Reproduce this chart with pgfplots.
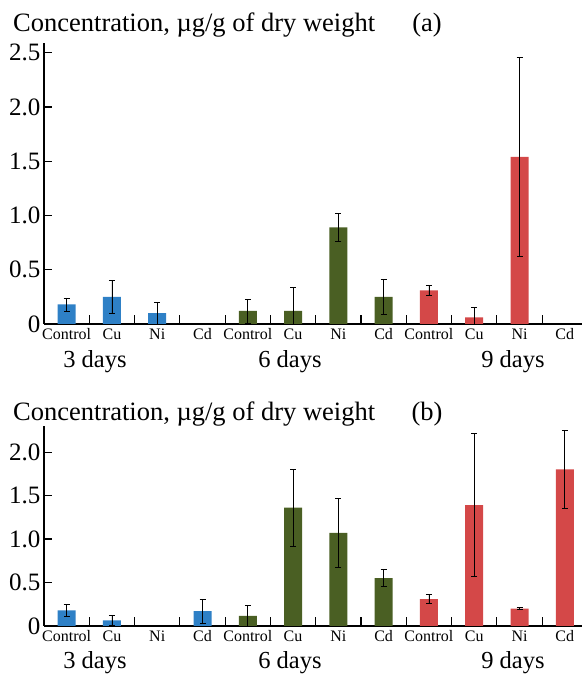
\documentclass[border=0pt]{standalone}
\usepackage{fontspec}
\setmainfont{Liberation Serif}
\usepackage{pgfplots}
\pgfplotsset{compat=1.18}
\definecolor{cblue}{RGB}{46,128,198}
\definecolor{cgreen}{RGB}{74,95,35}
\definecolor{cred}{RGB}{212,72,72}
\pgfplotsset{
 panel/.style={
  scale only axis, width=538pt,
  xmin=-0.5, xmax=11.38, ymin=0,
  axis x line*=bottom, axis y line*=left,
  axis line style={line width=1.1pt, -},
  tick align=inside,
  xtick={0,...,11},
  xticklabels={Control,Cu,Ni,Cd,Control,Cu,Ni,Cd,Control,Cu,Ni,Cd},
  major x tick style={draw=none},
  minor xtick={0.5,1.5,...,10.5},
  minor x tick style={line width=1.1pt, black},
  minor tick length=9pt,
  major tick length=8pt,
  y tick style={line width=1.1pt, black},
  /pgf/number format/assume math mode=true,
  xticklabel style={font=\fontsize{16}{16}\selectfont, yshift=-1pt},
  yticklabel style={font=\fontsize{25}{25}\selectfont},
 },
 barb/.style={ybar, bar width=18pt, bar shift=0pt, fill=#1, draw=none,
  error bars/.cd, y dir=both, y explicit,
  error bar style={black, line width=0.8pt},
  error mark options={rotate=90, black, mark size=3pt, line width=0.8pt}},
}
\begin{document}
\begin{tikzpicture}
\useasboundingbox (0,0) rectangle (582pt,675pt);
% panel (a)
\begin{axis}[panel, at={(44pt,351pt)}, anchor=south west, height=281pt,
  ymax=2.59, ytick={0,0.5,1,1.5,2,2.5}, yticklabels={0,0.5,1.0,1.5,2.0,2.5}]
\addplot[barb=cblue] coordinates {(0,0.18) +- (0,0.06) (1,0.25) +- (0,0.15) (2,0.10) +- (0,0.10)};
\addplot[barb=cgreen] coordinates {(4,0.12) +- (0,0.11) (5,0.12) +- (0,0.22) (6,0.89) +- (0,0.13) (7,0.25) +- (0,0.16)};
\addplot[barb=cred] coordinates {(8,0.31) +- (0,0.05) (9,0.06) +- (0,0.09) (10,1.54) +- (0,0.92)};
\end{axis}
% panel (b)
\begin{axis}[panel, at={(44pt,49pt)}, anchor=south west, height=200pt,
  ymax=2.30, ytick={0,0.5,1,1.5,2}, yticklabels={0,0.5,1.0,1.5,2.0}]
\addplot[barb=cblue] coordinates {(0,0.18) +- (0,0.065) (1,0.065) +- (0,0.06) (3,0.17) +- (0,0.14)};
\addplot[barb=cgreen] coordinates {(4,0.115) +- (0,0.12) (5,1.36) +- (0,0.44) (6,1.07) +- (0,0.40) (7,0.55) +- (0,0.10)};
\addplot[barb=cred] coordinates {(8,0.31) +- (0,0.05) (9,1.39) +- (0,0.82) (10,0.20) +- (0,0.01) (11,1.80) +- (0,0.45)};
\end{axis}
\begin{scope}[every node/.style={font=\fontsize{24.5}{25}\selectfont, inner sep=0pt}]
\node[anchor=west, font=\fontsize{26.5}{27}\selectfont] at (13pt,650pt) {Concentration, µg/g of dry weight};
\node[font=\fontsize{26.5}{27}\selectfont] at (427pt,650pt) {(a)};
\node[anchor=west, font=\fontsize{26.5}{27}\selectfont] at (13pt,261pt) {Concentration, µg/g of dry weight};
\node[font=\fontsize{26.5}{27}\selectfont] at (427pt,261pt) {(b)};
\node at (95pt,313pt) {3 days};
\node at (290pt,313pt) {6 days};
\node at (513pt,313pt) {9 days};
\node at (95pt,12pt) {3 days};
\node at (290pt,12pt) {6 days};
\node at (513pt,12pt) {9 days};
\end{scope}
\end{tikzpicture}
\end{document}
